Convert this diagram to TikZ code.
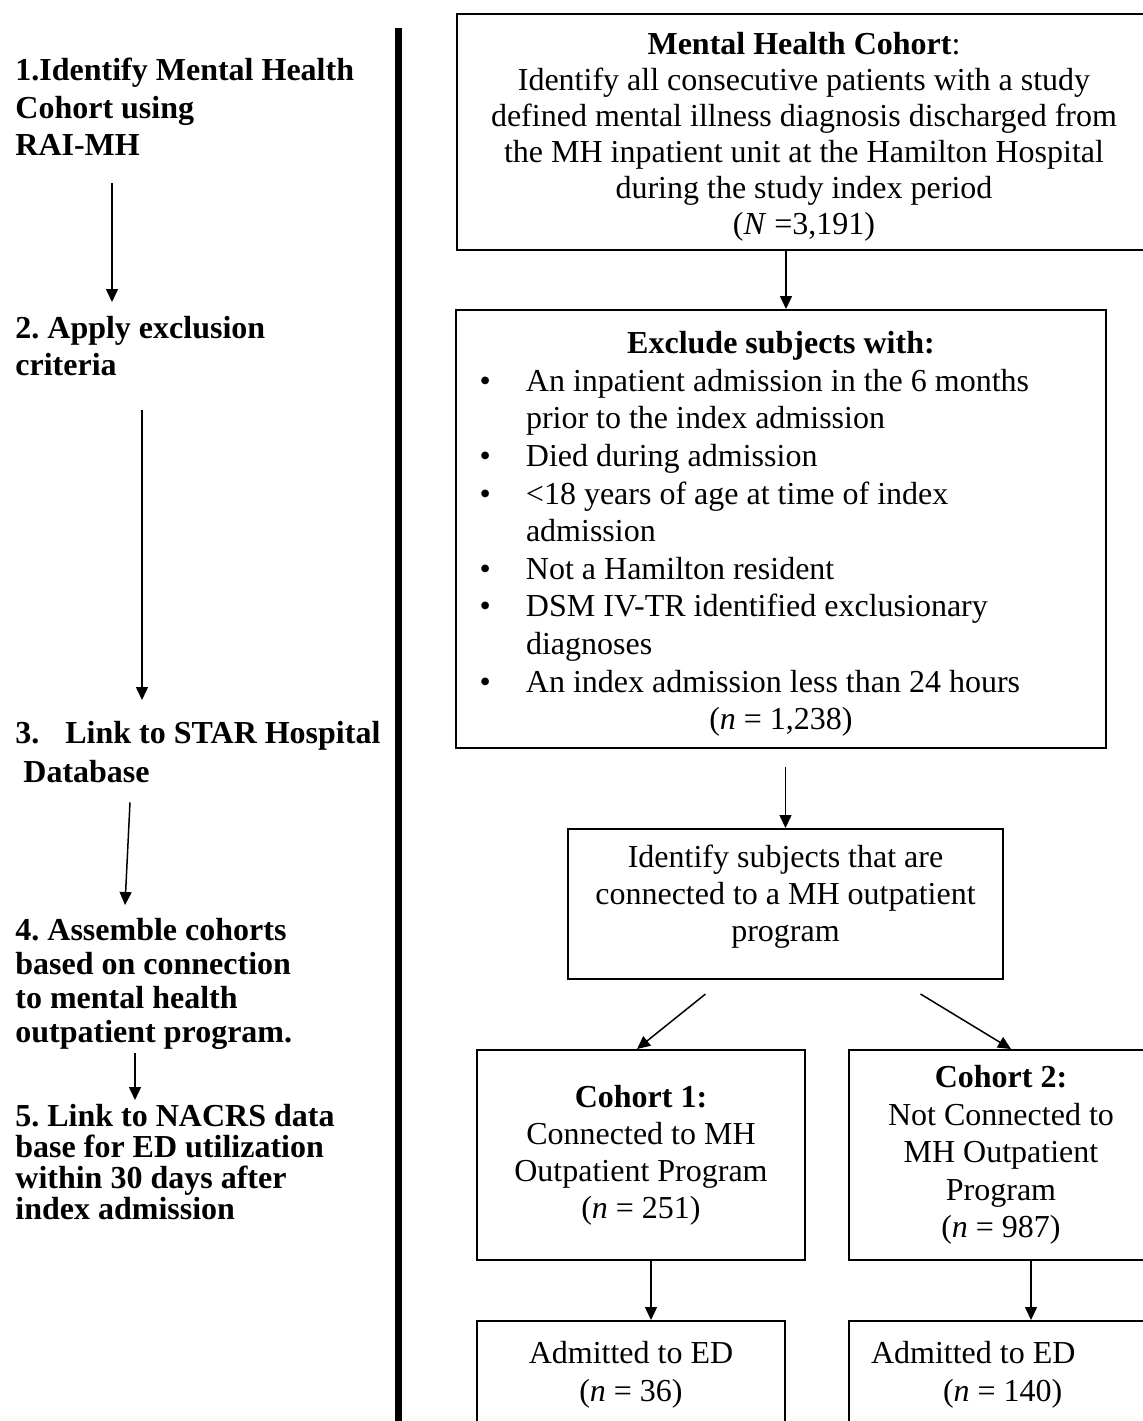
\documentclass[tikz,border=0pt]{standalone}
\usepackage{fontspec}
\setmainfont{Liberation Serif}
\usetikzlibrary{arrows.meta}
% item with bullet and hanging indent
\newcommand{\bul}{\par\noindent\hangindent=29pt\hangafter=1\makebox[29pt][l]{\hspace{5.75pt}\textbullet}}
% natural word spacing inside left-aligned nodes
\newcommand{\natsp}{\spaceskip=0pt\xspaceskip=0pt\frenchspacing}
\begin{document}
\begin{tikzpicture}[x=0.5pt, y=-0.5pt, >={Triangle[length=6.5pt,width=6pt]},
    box/.style={draw, line width=1pt, rectangle, anchor=north west, align=center, inner sep=5pt},
    stage/.style={anchor=north west, align=left, inner sep=0pt},
    seta/.style={->, line width=0.75pt}]
\useasboundingbox (0,0) rectangle (1143,1421);
\clip (0,0) rectangle (1143,1421);
% Etapas (coluna esquerda)
\node[stage, font=\fontsize{16pt}{18.75pt}\selectfont\bfseries] (st1) at (15,58)
  {\natsp 1.Identify Mental Health\\Cohort using\\RAI-MH};
\node[stage, font=\fontsize{16pt}{18.5pt}\selectfont\bfseries] (st2) at (15,316)
  {\natsp 2. Apply exclusion\\criteria};
\node[stage, font=\fontsize{16pt}{19.5pt}\selectfont\bfseries] (st3) at (15,721)
  {\natsp 3.\hspace{13pt}Link to STAR Hospital\\\hspace*{4pt}Database};
\node[stage, font=\fontsize{16pt}{17pt}\selectfont\bfseries] (st4) at (15,918)
  {\natsp 4. Assemble cohorts\\based on connection\\to mental health\\outpatient program.};
\node[stage, font=\fontsize{16pt}{15.5pt}\selectfont\bfseries] (st5) at (15,1104)
  {\natsp 5. Link to NACRS data\\base for ED utilization\\within 30 days after\\index admission};
\draw[seta] ([shift={(97,27)}]st1.south west) -- ([shift={(97,-14)}]st2.north west);
\draw[seta] ([shift={(127,34)}]st2.south west) -- ([shift={(127,-21)}]st3.north west);
\draw[seta] ([shift={(115,19)}]st3.south west) -- ([shift={(110,-13)}]st4.north west);
\draw[seta] ([shift={(120,3)}]st4.south west) -- ([shift={(120,-4)}]st5.north west);
% Barra separadora
\coordinate (bartop) at (398.5,28);
\coordinate (barbot) at (398.5,1440);
\draw[line width=3.5pt] (bartop) -- (barbot);
% Coorte inicial
\node[box, inner ysep=3pt, minimum width=347pt, minimum height=118pt, font=\fontsize{16pt}{18pt}\selectfont] (top) at (456,13)
  {\rule{0pt}{16pt}\textbf{Mental Health Cohort}:\\Identify all consecutive patients with a study\\defined mental illness diagnosis discharged from\\the MH inpatient unit at the Hamilton Hospital\\during the study index period\\(\textit{N} =3,191)};
% Criterios de exclusao
\node[box, minimum width=325pt, minimum height=219pt, text width=313pt, inner xsep=6pt, align=left,
  font=\fontsize{16pt}{18.8pt}\selectfont] (excl) at (455,309)
  {\natsp{\centering\rule{0pt}{16pt}\textbf{Exclude subjects with:}\par}
   \bul An inpatient admission in the 6 months\newline prior to the index admission
   \bul Died during admission
   \bul <18 years of age at time of index\newline admission
   \bul Not a Hamilton resident
   \bul DSM IV-TR identified exclusionary\newline diagnoses
   \bul An index admission less than 24 hours
   \par{\centering (\textit{n} = 1,238)\par}};
% Ligacao ao programa ambulatorio
\node[box, minimum width=217.5pt, minimum height=75pt, font=\fontsize{16pt}{18.5pt}\selectfont] (ident) at (567,828)
  {Identify subjects that are\\connected to a MH outpatient\\program\rule[-10.5pt]{0pt}{10.5pt}};
% Coortes
\node[box, minimum width=164pt, minimum height=105pt, font=\fontsize{16pt}{18.5pt}\selectfont] (coh1) at (476,1049)
  {\textbf{Cohort 1:}\\Connected to MH\\Outpatient Program\\(\textit{n} = 251)};
\node[box, minimum width=152pt, minimum height=105pt, font=\fontsize{16pt}{18.75pt}\selectfont] (coh2) at (848,1049)
  {\textbf{Cohort 2:}\\Not Connected to\\MH Outpatient\\Program\\(\textit{n} = 987)};
% Admissoes no ED
\node[box, minimum width=154pt, inner ysep=10pt, text depth=60pt, font=\fontsize{16pt}{19pt}\selectfont] (adm1) at (476,1320)
  {Admitted to ED\\(\textit{n} = 36)};
\node[box, text width=130pt, inner xsep=11pt, inner ysep=10pt, text depth=60pt, align=left,
  font=\fontsize{16pt}{19pt}\selectfont] (adm2) at (848,1320)
  {\natsp Admitted to ED\\\hspace*{36pt}(\textit{n} = 140)};
% Setas
\draw[seta] ([xshift=2.5pt]excl.north |- top.south) -- ([xshift=2.5pt]excl.north);
\draw[seta] ([yshift=-9pt]excl.south -| ident.north) -- (ident.north);
\draw[seta] ([shift={(-80,14)}]ident.south) -- ([xshift=-2pt]coh1.north);
\draw[seta] ([shift={(135,14)}]ident.south) -- ([xshift=5pt]coh2.north);
\draw[seta] ([xshift=5pt]coh1.south) -- ([xshift=5pt]coh1.south |- adm1.north);
\draw[seta] ([xshift=15pt]coh2.south) -- ([xshift=15pt]coh2.south |- adm2.north);
\end{tikzpicture}
\end{document}
